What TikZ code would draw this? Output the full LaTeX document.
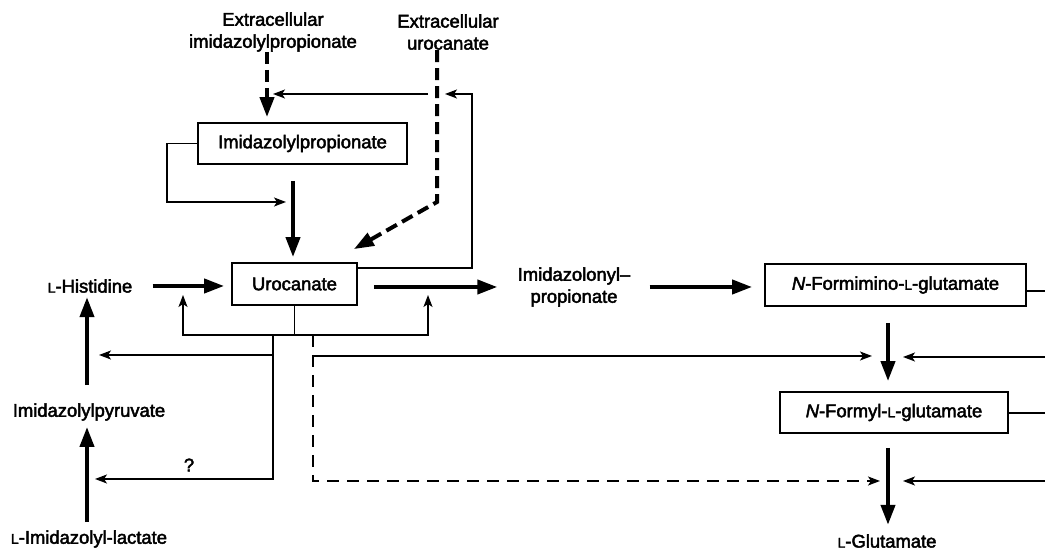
\documentclass[tikz,border=0pt]{standalone}
\usepackage{fontspec}
\setmainfont{Liberation Sans}[FakeBold=2.5]
\usepackage{tikz}
\usetikzlibrary{positioning, arrows.meta, calc}

\newcommand{\Lsc}{{\fontsize{7}{8}\selectfont L}}

\begin{document}
\begin{tikzpicture}[x=0.5pt, y=-0.5pt,
    font=\fontsize{9.2}{11}\selectfont,
    chem/.style={inner sep=0pt, align=center},
    box/.style={draw, line width=0.9pt, inner sep=0pt, minimum height=21pt},
    bigarr/.style={line width=2pt, -{Triangle[length=10pt, width=7pt]}},
    bigdash/.style={bigarr, dash pattern=on 6pt off 3pt},
    thinarr/.style={line width=0.8pt, -{Stealth[length=6pt, width=4.5pt, inset=1.5pt]}},
    thinline/.style={line width=0.8pt},
    thindash/.style={thinarr, dash pattern=on 6pt off 4pt}]
  \useasboundingbox (0,0) rectangle (1045,549);

  % compounds
  \node[chem] (extimp) at (273,32) {Extracellular\\imidazolylpropionate};
  \node[chem] (exturo) at (448,32) {Extracellular\\urocanate};
  \node[box, minimum width=104.5pt, minimum height=20.5pt] (imp) at (302.5,143.5) {Imidazolylpropionate};
  \node[box, minimum width=62.5pt] (uro) at (294.5,284) {Urocanate};
  \node[chem] (his) at (90,286) {\Lsc-Histidine};
  \node[chem] (imdp) at (574,287) {Imidazolonyl--\\propionate};
  \node[box, minimum width=130.5pt] (figlu) at (895.5,285) {\textit{N}-Formimino-\Lsc-glutamate};
  \node[box, minimum width=114pt, minimum height=20.5pt] (fgl) at (894,412.5) {\textit{N}-Formyl-\Lsc-glutamate};
  \node[chem] (glu) at (887,541) {\Lsc-Glutamate};
  \node[chem] (pyr) at (89,412) {Imidazolylpyruvate};
  \node[chem] (lac) at (89,539) {\Lsc-Imidazolyl-lactate};
  \node[chem] (qmark) at (189,465) {?};

  % bends and columns
  \coordinate (xa) at (267,0);
  \coordinate (xb) at (437,0);
  \coordinate (bend) at (437,202);
  \coordinate (xc) at (293,0);
  \coordinate (loopl) at (167,202);
  \coordinate (xfer) at (428,94);
  \coordinate (loopr) at (472,94);
  \coordinate (loopend) at (445,94);
  \coordinate (forkl) at (183,335);
  \coordinate (ul) at (183,295);
  \coordinate (ur) at (428,295);
  \coordinate (ql) at (273,335);
  \coordinate (qa) at (273,355);
  \coordinate (qb) at (273,479);
  \coordinate (xe) at (87,0);
  \coordinate (da) at (313,335);
  \coordinate (db) at (313,481);
  \coordinate (sa) at (314,356);
  \coordinate (xd) at (888,0);
  \coordinate (ea) at (1045,291);
  \coordinate (eb) at (1045,413);
  \coordinate (ec) at (1045,357);
  \coordinate (ed) at (1045,481);

  % uptake
  \draw[bigdash, shorten >=2.5pt] (extimp.south -| xa) -- (imp.north -| xa);
  \draw[bigdash] (exturo.south -| xb) -- (bend) -- ([shift={(-2pt,6.5pt)}]uro.north east);
  \draw[thinarr, shorten >=3pt] (xfer) -- (xfer -| xa);
  \draw[thinarr] ([yshift=-3pt]uro.north east) -| (loopr) -- (loopend);
  \draw[thinarr, shorten >=3.5pt] (imp.west) -| (loopl) -- (loopl -| xc);
  \draw[bigarr, shorten <=8pt, shorten >=2.5pt] (imp.south -| xc) -- (uro.north -| xc);

  % main pathway
  \draw[bigarr, shorten <=10pt, shorten >=3.5pt] (his.east) -- (his.east -| uro.west);
  \draw[bigarr, shorten <=8pt, shorten >=10pt] (uro.east |- imdp.west) -- (imdp.west);
  \draw[bigarr, shorten <=9.5pt, shorten >=6pt] (imdp.east) -- (imdp.east -| figlu.west);
  \draw[bigarr, shorten <=8pt, shorten >=5pt] (figlu.south -| xd) -- (fgl.north -| xd);
  \draw[bigarr, shorten <=7pt, shorten >=4.5pt] (fgl.south -| xd) -- (glu.north -| xd);
  \draw[bigarr, shorten <=9pt, shorten >=2pt] (pyr.north -| xe) -- (his.south -| xe);
  \draw[bigarr, shorten <=4pt, shorten >=3pt] (lac.north -| xe) -- (pyr.south -| xe);

  % urocanate control
  \draw[thinline] (uro.south) -- (uro.south |- forkl);
  \draw[thinarr] (uro.south |- forkl) -| (ul);
  \draw[thinarr] (uro.south |- forkl) -| (ur);
  \draw[thinarr, shorten >=4pt] (ql) -- (qb) -- (qb -| xe);
  \draw[thinarr, shorten >=6pt] (qa) -- (qa -| xe);
  \draw[thindash, shorten >=4pt] (da) -- (db) -- (db -| xd);
  \draw[thinarr, shorten >=8pt] (sa) -- (sa -| xd);

  % right side
  \draw[thinline] (figlu.east |- ea) -- (ea);
  \draw[thinline] (fgl.east |- eb) -- (eb);
  \draw[thinarr, shorten >=7.5pt] (ec) -- (ec -| xd);
  \draw[thinarr, shorten >=7.5pt] (ed) -- (ed -| xd);
\end{tikzpicture}
\end{document}
